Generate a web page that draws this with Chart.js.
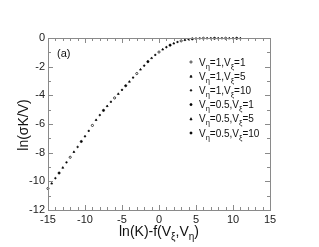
<!DOCTYPE html>
<html><head><meta charset="utf-8">
<script src="https://cdn.jsdelivr.net/npm/chart.js@4"></script>
<style>html,body{margin:0;padding:0;background:#fff}canvas{display:block}</style>
</head><body>
<canvas id="c" width="319" height="247"></canvas>
<script>
// Series parameters (legend)
const etaValues = ['1', '1', '1', '0.5', '0.5', '0.5'];
const xiValues  = ['1', '5', '10', '1', '5', '10'];

// Series data (x = ln(K)-f(Vξ,Vη), y = ln(σK/V))
const x1 = [-15, -12, -9, -6, -3, 0, 3, 6, 9];
const y1 = [-10.50, -8.32, -6.10, -4.18, -2.48, -0.98, -0.20, -0.02, -0.02];
const x2 = [-14.5, -11.5, -8.5, -5.5, -2.5, 0.5, 3.5, 6.5, 9.5];
const y2 = [-10.15, -7.95, -5.72, -3.90, -2.20, -0.80, -0.14, -0.02, -0.02];
const x3 = [-14, -11, -8, -5, -2, 1, 4, 7, 10];
const y3 = [-9.78, -7.60, -5.38, -3.62, -1.93, -0.64, -0.09, -0.02, -0.02];
const x4 = [-13.5, -10.5, -7.5, -4.5, -1.5, 1.5, 4.5, 7.5, 10.5];
const y4 = [-9.42, -7.22, -5.05, -3.33, -1.65, -0.50, -0.06, -0.02, -0.02];
const x5 = [-13, -10, -7, -4, -1, 2, 5, 8, 11];
const y5 = [-9.05, -6.86, -4.75, -3.05, -1.40, -0.38, -0.04, -0.02, -0.02];
const x6 = [-12.5, -9.5, -6.5, -3.5, -0.5, 2.5, 5.5, 8.5];
const y6 = [-8.68, -6.48, -4.45, -2.76, -1.18, -0.28, -0.03, -0.02];

const xTickLabels = [-15, -10, -5, 0, 5, 10, 15];
const yTickLabels = [0, -2, -4, -6, -8, -10, -12];

const xs = [x1, x2, x3, x4, x5, x6];
const ys = [y1, y2, y3, y4, y5, y6];
const styles = [
  {pointStyle: 'circle', fill: '#fff', r: 1.1},
  {pointStyle: 'triangle', fill: '#000', r: 1.1},
  {pointStyle: 'circle', fill: '#000', r: 0.8},
  {pointStyle: 'circle', fill: '#000', r: 1.1},
  {pointStyle: 'triangle', fill: '#000', r: 1.1},
  {pointStyle: 'rect', fill: '#000', r: 0.9}
];

const datasets = xs.map((xa, i) => ({
  label: 'V' + etaValues[i] + ',' + xiValues[i],
  data: xa.map((x, j) => ({x: x, y: ys[i][j]})),
  pointStyle: styles[i].pointStyle,
  pointRadius: styles[i].r,
  pointBorderWidth: 0.7,
  pointBackgroundColor: styles[i].fill,
  pointBorderColor: '#000',
  showLine: false,
  clip: false
}));

const FONT = '"Liberation Sans", Arial, sans-serif';

function drawSegs(ctx, segs, x, y, mainSize, subSize, subOff, align) {
  let w = 0;
  segs.forEach(s => { ctx.font = (s.sub ? subSize : mainSize) + 'px ' + FONT; w += ctx.measureText(s.t).width; });
  let cx = align === 'center' ? x - w / 2 : x;
  ctx.textAlign = 'left';
  segs.forEach(s => {
    ctx.font = (s.sub ? subSize : mainSize) + 'px ' + FONT;
    ctx.fillText(s.t, cx, y + (s.sub ? subOff : 0));
    cx += ctx.measureText(s.t).width;
  });
}

const deco = {
  id: 'deco',
  afterDraw(chart) {
    const ctx = chart.ctx;
    const {left, right, top, bottom} = chart.chartArea;
    const sx = chart.scales.x, sy = chart.scales.y;
    ctx.save();
    ctx.strokeStyle = '#8a8a8a';
    ctx.lineWidth = 1;
    ctx.strokeRect(Math.round(left) + 0.5, Math.round(top) + 0.5, Math.round(right - left), Math.round(bottom - top));
    const line = (a, b, c, d) => { ctx.beginPath(); ctx.moveTo(a, b); ctx.lineTo(c, d); ctx.stroke(); };
    for (let v = sx.min; v <= sx.max; v++) {
      const px = Math.round(sx.getPixelForValue(v)) + 0.5;
      const L = v % 5 === 0 ? 5 : 3;
      line(px, bottom, px, bottom - L);
      line(px, top, px, top + L);
    }
    for (let v = sy.min; v <= sy.max; v++) {
      const py = Math.round(sy.getPixelForValue(v)) + 0.5;
      const L = v % 2 === 0 ? 5 : 3;
      line(left, py, left + L, py);
      line(right, py, right - L, py);
    }
    ctx.fillStyle = '#111';
    ctx.textBaseline = 'alphabetic';
    // panel label
    ctx.font = '11px ' + FONT;
    ctx.textAlign = 'left';
    ctx.fillText('(a)', 57, 57);
    // x title
    drawSegs(ctx, [{t: 'ln(K)-f(V'}, {t: 'ξ', sub: true}, {t: ',V'}, {t: 'η', sub: true}, {t: ')'}],
      (left + right) / 2, 236, 14, 10, 4, 'center');
    // y title
    ctx.save();
    ctx.translate(28, 125);
    ctx.rotate(-Math.PI / 2);
    ctx.font = '14px ' + FONT;
    ctx.textAlign = 'center';
    ctx.fillText('ln(σK/V)', 0, 0);
    ctx.restore();
    // legend
    for (let i = 0; i < 6; i++) {
      const yy = 62 + i * 14.2;
      const mx = 191;
      ctx.fillStyle = styles[i].fill;
      ctx.strokeStyle = '#000';
      ctx.lineWidth = 0.7;
      const r = styles[i].r;
      ctx.beginPath();
      if (styles[i].pointStyle === 'circle') ctx.arc(mx, yy, r, 0, Math.PI * 2);
      else if (styles[i].pointStyle === 'triangle') { ctx.moveTo(mx, yy - r); ctx.lineTo(mx + r, yy + r); ctx.lineTo(mx - r, yy + r); ctx.closePath(); }
      else ctx.rect(mx - r, yy - r, 2 * r, 2 * r);
      ctx.fill(); ctx.stroke();
      ctx.fillStyle = '#111';
      drawSegs(ctx, [{t: 'V'}, {t: 'η', sub: true}, {t: '=' + etaValues[i] + ',V'}, {t: 'ξ', sub: true}, {t: '=' + xiValues[i]}],
        199, yy + 3.5, 10, 7.5, 3, 'left');
    }
    ctx.restore();
  }
};

new Chart(document.getElementById('c'), {
  type: 'scatter',
  data: {datasets: datasets},
  options: {
    responsive: false,
    animation: false,
    devicePixelRatio: 1,
    layout: {padding: {top: 38, right: 49, left: 0, bottom: 0}},
    plugins: {legend: {display: false}, tooltip: {enabled: false}},
    scales: {
      x: {
        type: 'linear', min: -15, max: 15,
        grid: {display: false, drawTicks: false, tickLength: 0}, border: {display: false},
        afterBuildTicks: s => { s.ticks = xTickLabels.map(v => ({value: v})); },
        ticks: {color: '#222', font: {size: 11, family: FONT}, padding: 3, maxRotation: 0, autoSkip: false},
        afterFit: s => { s.height = 37; }
      },
      y: {
        type: 'linear', min: -12, max: 0,
        grid: {display: false, drawTicks: false, tickLength: 0}, border: {display: false},
        afterBuildTicks: s => { s.ticks = yTickLabels.map(v => ({value: v})); },
        ticks: {color: '#222', font: {size: 11, family: FONT}, padding: 3, autoSkip: false},
        afterFit: s => { s.width = 48; }
      }
    }
  },
  plugins: [deco]
});
</script>
</body></html>
